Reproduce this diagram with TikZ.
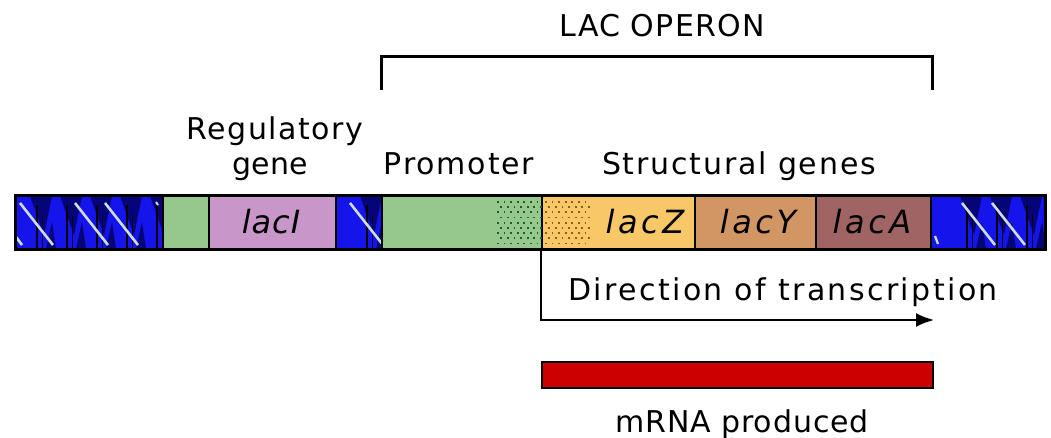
\documentclass[tikz,border=0pt]{standalone}
\usepackage{fontspec}
\setmainfont{DejaVu Sans}
\usetikzlibrary{arrows.meta}
\definecolor{navy}{RGB}{5,5,120}
\definecolor{bblue}{RGB}{20,20,235}
\definecolor{hline}{RGB}{205,220,225}
\definecolor{pgreen}{RGB}{150,200,142}
\definecolor{ppurple}{RGB}{200,150,200}
\definecolor{zyellow}{RGB}{248,200,104}
\definecolor{ytan}{RGB}{210,150,100}
\definecolor{abrown}{RGB}{160,100,100}
\definecolor{mred}{RGB}{205,0,0}
\definecolor{gdot}{RGB}{25,95,45}
\definecolor{ydot}{RGB}{140,95,25}
\tikzset{
  seg/.style={draw=black, line width=1.5pt, inner sep=0pt, minimum height=53pt, anchor=west},
  lbl/.style={anchor=base, inner sep=0pt, font=\fontsize{30}{32}\selectfont\addfontfeature{LetterSpace=#1}},
  lbl/.default=5,
  glbl/.style={inner sep=0pt, font=\fontsize{32}{34}\selectfont\itshape\addfontfeature{LetterSpace=#1}},
  glbl/.default=11,
  blk/.style={line width=3pt},
}
\newcommand{\dnahatch}[2]{% x1, x2
  \begin{scope}
    \clip (#1,196) rectangle (#2,249);
    \fill[bblue] (#1,196) rectangle (#2,249);
    \foreach \s in {-60,-30,...,1100}{
      \ifdim \s pt>#1pt \relax
        \ifdim \s pt<#2pt \relax
          \fill[navy] (\s,196) -- (\s+14,235) -- (\s+22,196) -- cycle;
          \fill[navy] (\s+16,249) -- (\s+22,222) -- (\s+26,249) -- cycle;
          \draw[black, line width=1.2pt] (\s+7,205) -- (\s+7,249);
          \draw[black!80!navy, line width=0.8pt] (\s+12,215) -- (\s+12,249);
        \fi
      \fi
    }
  \end{scope}
}
\begin{document}
\begin{tikzpicture}[x=1pt,y=-1pt]
\useasboundingbox (0,0) rectangle (1051,438);

% ---- DNA hatched parts ----
\dnahatch{15}{162}
\dnahatch{335}{381}
\dnahatch{930}{1045}
\begin{scope}
  \clip (15,196) rectangle (1045,249);
  \foreach \a in {20,75,105,350,962,992}{
    \draw[hline, line width=2.6pt] (\a,203) -- (\a+33,245);
  }
  \draw[hline, line width=2.6pt] (13,233) -- (22,245);
  \draw[hline, line width=2.2pt] (935,236) -- (938,244);
  \draw[hline, line width=2pt] (156,202) -- (158,205);
\end{scope}
\node[seg, draw=none, minimum width=147pt] (dnaL) at (15,222.5) {};
\node[seg, draw=none, minimum width=46pt] (dnaM) at (335,222.5) {};
\node[seg, draw=none, minimum width=115pt] (dnaR) at (930,222.5) {};

% ---- segments ----
\node[seg, fill=pgreen, minimum width=46pt] (opr) at (162,222.5) {};
\node[seg, fill=ppurple, minimum width=127pt] (lacI) at (208,222.5) {};
\node[seg, fill=pgreen, minimum width=160pt] (prom) at (381,222.5) {};
\node[seg, fill=zyellow, minimum width=153pt] (lacZ) at (541,222.5) {};
\node[seg, fill=ytan, minimum width=121pt] (lacY) at (694,222.5) {};
\node[seg, fill=abrown, minimum width=115pt] (lacA) at (815,222.5) {};

% dots
\foreach \i in {0,...,6}{
  \foreach \j in {0,...,8}{
    \pgfmathsetmacro{\xx}{497+\i*6.6+mod(\j,2)*3.3}
    \pgfmathsetmacro{\yy}{201+\j*5.2}
    \fill[gdot] (\xx,\yy) rectangle ++(1.8,1.8);
  }
}
\foreach \i in {0,...,6}{
  \foreach \j in {0,...,8}{
    \pgfmathsetmacro{\xx}{545+\i*6.6+mod(\j,2)*3.3}
    \pgfmathsetmacro{\yy}{201+\j*5.2}
    \fill[ydot] (\xx,\yy) rectangle ++(1.8,1.8);
  }
}

% gene labels
\node[glbl=3] (tI) at (271,222) {lacI};
\node[glbl] (tZ) at (645,222) {lacZ};
\node[glbl] (tY) at (758,222) {lacY};
\node[glbl] (tA) at (872,222) {lacA};

% outer border
\draw[black, line width=3pt] (15,196) rectangle (1045,249);

% ---- bracket ----
\coordinate (brL) at (381,90);
\coordinate (brR) at (932,90);
\coordinate (brT) at (656,57);
\draw[blk] (brL) |- (brT) -| (brR);

% ---- labels ----
\node[lbl=4] (lac) at (662,37) {LAC OPERON};
\node[lbl=5] (reg) at (275,140) {Regulatory};
\node[lbl=0] (gene) at (270,175) {gene};
\node[lbl=6] (promlbl) at (459,175) {Promoter};
\node[lbl=6] (strlbl) at (739,175) {Structural genes};
\node[lbl=8] (dir) at (783,300) {Direction of transcription};

% ---- transcription arrow ----
\coordinate (arrEnd) at (934,320);
\draw[line width=2pt, -{Latex[length=18pt,width=14pt]}] (lacZ.south west) |- (arrEnd);

% ---- mRNA ----
\node[draw=black, line width=1.5pt, fill=mred, inner sep=0pt, minimum width=391pt, minimum height=26pt, anchor=north west] (mrna) at (541,361) {};
\node[lbl=3] (mrnalbl) at (742,432) {mRNA produced};
\end{tikzpicture}
\end{document}
